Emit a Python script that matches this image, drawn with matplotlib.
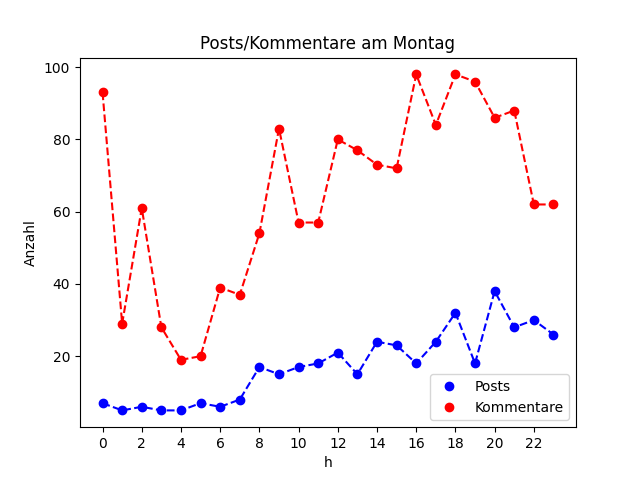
import matplotlib
matplotlib.use("Agg")
import matplotlib.pyplot as plt

hours = list(range(24))
posts = [7, 5, 6, 5, 5, 7, 6, 8, 17, 15, 17, 18, 21, 15, 24, 23, 18, 24, 32, 18, 38, 28, 30, 26]
kommentare = [93, 29, 61, 28, 19, 20, 39, 37, 54, 83, 57, 57, 80, 77, 73, 72, 98, 84, 98, 96, 86, 88, 62, 62]

plt.figure(figsize=(6.4, 4.8), dpi=100)
plt.plot(hours, posts, 'bo', label='Posts')
plt.plot(hours, posts, 'b--')
plt.plot(hours, kommentare, 'ro', label='Kommentare')
plt.plot(hours, kommentare, 'r--')
plt.title("Posts/Kommentare am Montag")
plt.xlabel("h")
plt.ylabel("Anzahl")
plt.xticks(range(0, 24, 2))
plt.legend(loc='lower right')
plt.savefig("out.png")
